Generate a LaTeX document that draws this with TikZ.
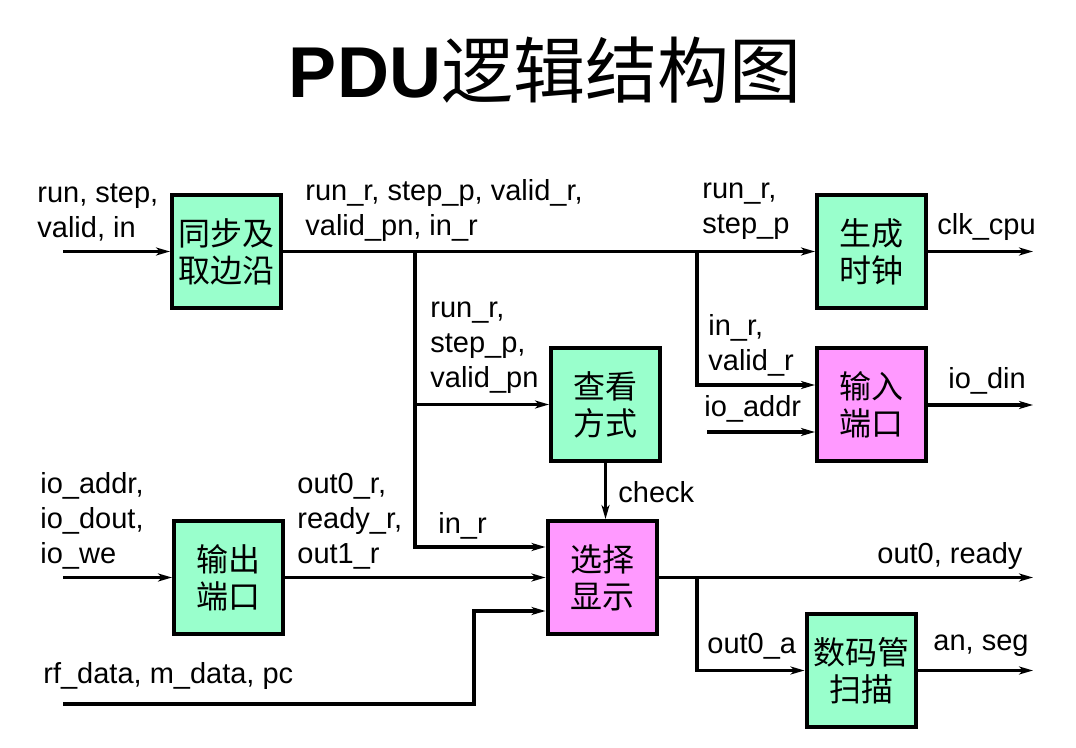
\documentclass[tikz,border=0pt]{standalone}
\usepackage{fontspec}
\setmainfont{Liberation Sans}
\newfontfamily\cjk{Noto Sans CJK SC}
\usetikzlibrary{arrows.meta}
\definecolor{boxgreen}{RGB}{153,255,204}
\definecolor{boxpink}{RGB}{255,153,255}

\begin{document}
\begin{tikzpicture}[x=0.5pt,y=-0.5pt,>={Stealth[length=7pt,width=4pt,inset=2pt]}]
        \tikzstyle{unit} = [draw,line width=2pt,minimum width=54.5pt,minimum height=56.5pt,inner sep=0pt,align=center,font=\cjk\fontsize{16}{18.5}\selectfont]
        \tikzstyle{sig} = [anchor=west,inner sep=0pt,align=left,font=\fontsize{14.5}{17.5}\selectfont]
        \tikzstyle{wire} = [line width=1.6pt]

        \useasboundingbox (0,0) rectangle (1076,748);

        \node[font=\fontsize{36}{42}\selectfont] (title) at (545,70) {\textbf{PDU}{\cjk 逻辑结构图}};

        \node[unit,fill=boxgreen] (sync) at (226.5,251.5) {同步及\\取边沿};
        \node[unit,fill=boxgreen] (clk) at (871.5,251.5) {生成\\时钟};
        \node[unit,fill=boxgreen] (view) at (605.5,404.5) {查看\\方式};
        \node[unit,fill=boxpink] (inport) at (871.5,405) {输入\\端口};
        \node[unit,fill=boxgreen] (outport) at (228.5,577.5) {输出\\端口};
        \node[unit,fill=boxpink] (disp) at (602,577.5) {选择\\显示};
        \node[unit,fill=boxgreen] (scan) at (861,670.5) {数码管\\扫描};

        \coordinate (in1) at (63,251.5);
        \coordinate (in2) at (63,577.5);
        \coordinate (rf) at (63,704);
        \coordinate (rfup) at (474,704);
        \coordinate (ioa) at (707,432);
        \coordinate (j1) at (415,251.5);
        \coordinate (j2) at (697,251.5);
        \coordinate (j3) at (697,577.5);
        \coordinate (outend) at (1033,0);

        \node[sig] (l1) at (37,212.5) {run, step,\\valid, in};
        \node[sig] (l2) at (305,210.5) {run\_r, step\_p, valid\_r,\\valid\_pn, in\_r};
        \node[sig] (l3) at (430,348) {run\_r,\\step\_p,\\valid\_pn};
        \node[sig] (l4) at (702,211.5) {run\_r,\\step\_p};
        \node[sig] (l5) at (937,227) {clk\_cpu};
        \node[sig] (l6) at (708,345.5) {in\_r,\\valid\_r};
        \node[sig] (l7) at (704,409) {io\_addr};
        \node[sig] (l8) at (948,381) {io\_din};
        \node[sig] (l9) at (40,521) {io\_addr,\\io\_dout,\\io\_we};
        \node[sig] (l10) at (297,521) {out0\_r,\\ready\_r,\\out1\_r};
        \node[sig] (l11) at (438,526) {in\_r};
        \node[sig] (l12) at (618,492) {check};
        \node[sig] (l13) at (43,676) {rf\_data, m\_data, pc};
        \node[sig] (l14) at (877,556) {out0, ready};
        \node[sig] (l15) at (707,646) {out0\_a};
        \node[sig] (l16) at (933,646) {an, seg};

        \draw[wire,->] (in1) -- (sync);
        \draw[wire,->] (sync) -- (clk);
        \draw[wire,->] (j1) |- (view);
        \draw[wire,->] (j1) |- ([yshift=15.25pt]disp.west);
        \draw[wire,->] (j2) |- ([yshift=10pt]inport.west);
        \draw[wire,->] (ioa) -- (ioa -| inport.west);
        \draw[wire,->] (clk) -- (clk -| outend);
        \draw[wire,->] (inport) -- (inport -| outend);
        \draw[wire,->] (view) -- (view.south |- disp.north);
        \draw[wire,->] (in2) -- (outport);
        \draw[wire,->] (outport) -- (disp);
        \draw[wire,->] (rf) -- (rfup) |- ([yshift=-16.75pt]disp.west);
        \draw[wire,->] (disp) -- (disp -| outend);
        \draw[wire,->] (j3) |- (scan);
        \draw[wire,->] (scan) -- (scan -| outend);

    \end{tikzpicture}
\end{document}
